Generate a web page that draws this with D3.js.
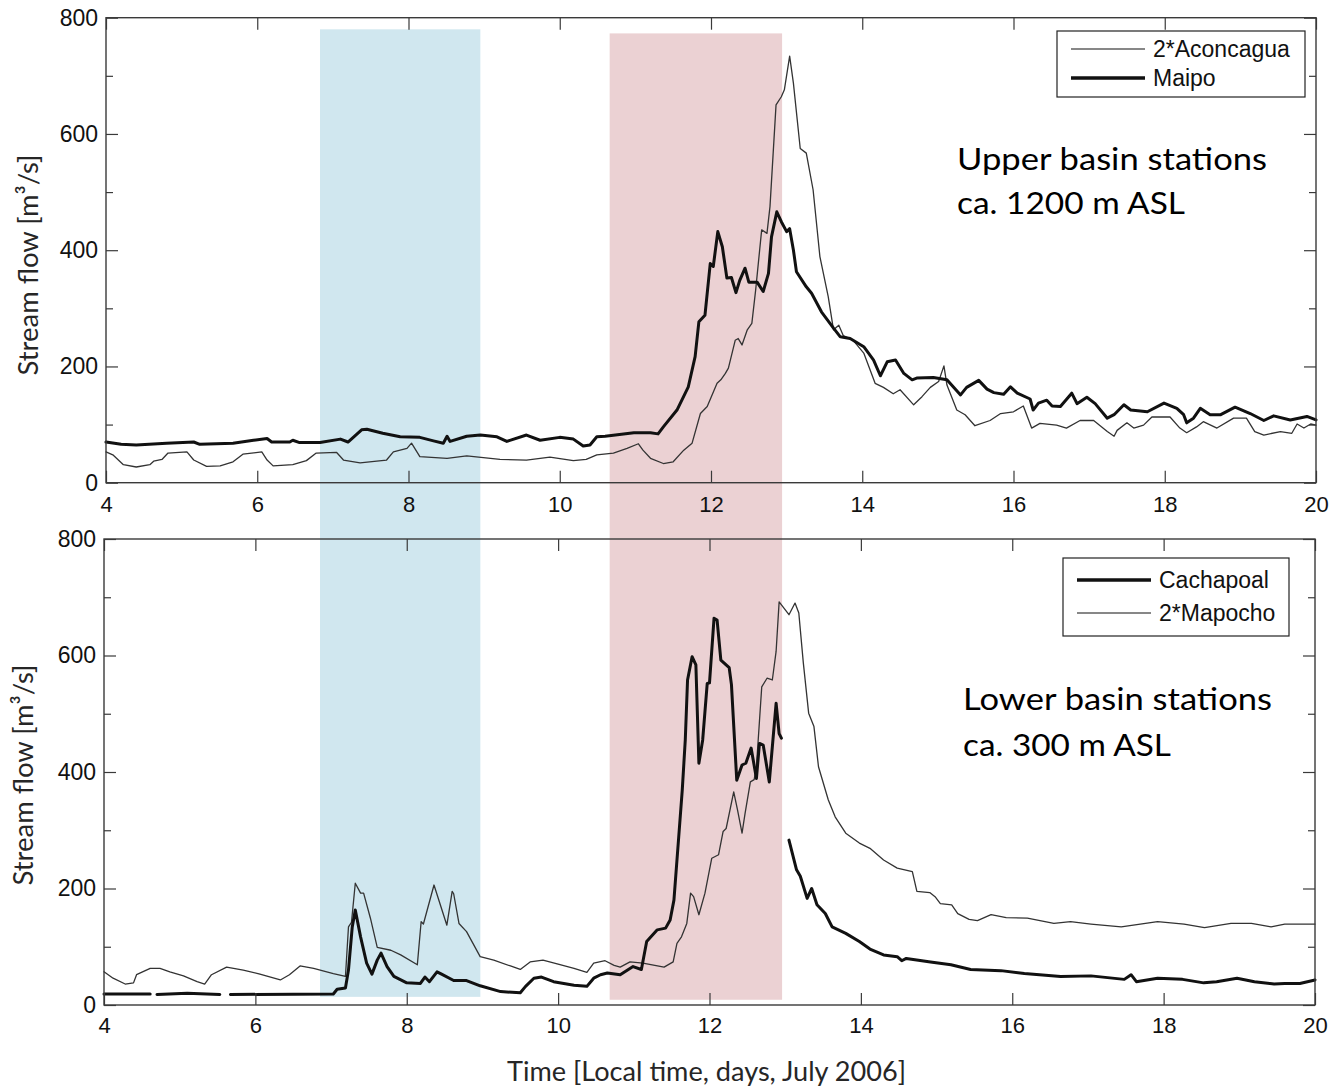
<!DOCTYPE html>
<html><head><meta charset="utf-8">
<script src="https://cdn.jsdelivr.net/npm/d3@7"></script>
<style>body{margin:0;background:#fff}</style>
</head><body><svg id="c" width="1333" height="1091"></svg>
<script>
// ---------- data ----------
const xTicks = [4, 6, 8, 10, 12, 14, 16, 18, 20];
const yTicks = [0, 200, 400, 600, 800];
const yMinorTicks = [100, 300, 500, 700];

const blueBand = [6.83, 8.95];   // days
const pinkBand = [10.66, 12.94]; // days

const topSeriesNames = ["2*Aconcagua", "Maipo"];
const bottomSeriesNames = ["Cachapoal", "2*Mapocho"];
const topTitle = ["Upper basin stations", "ca. 1200 m ASL"];
const bottomTitle = ["Lower basin stations", "ca. 300 m ASL"];

const maipo = [[4.0,70],[4.2,66],[4.4,65],[4.8,68],[5.16,70],[5.24,66],[5.68,68],[5.95,73],[6.13,76],[6.19,70],[6.43,70],[6.47,73],[6.56,69],[6.83,69],[7.10,75],[7.2,70],[7.38,91],[7.45,92],[7.66,85],[7.89,79],[8.15,78],[8.33,72],[8.46,68],[8.51,80],[8.55,71],[8.77,80],[8.95,82],[9.17,79],[9.30,71],[9.56,82],[9.74,73],[10.0,78],[10.18,75],[10.31,63],[10.4,65],[10.49,79],[10.6,80],[10.98,86],[11.2,86],[11.30,84],[11.37,96],[11.55,125],[11.70,165],[11.79,217],[11.84,277],[11.92,288],[11.99,377],[12.03,372],[12.09,432],[12.15,406],[12.21,352],[12.27,353],[12.33,327],[12.38,348],[12.45,369],[12.5,345],[12.61,345],[12.69,329],[12.76,360],[12.80,423],[12.87,466],[12.93,449],[13.0,432],[13.04,437],[13.09,400],[13.13,363],[13.26,337],[13.33,326],[13.46,294],[13.62,266],[13.71,251],[13.84,248],[14.02,234],[14.15,211],[14.24,184],[14.33,208],[14.44,211],[14.55,188],[14.66,177],[14.72,180],[14.94,181],[15.12,177],[15.30,151],[15.38,164],[15.54,176],[15.65,161],[15.74,155],[15.87,152],[15.96,165],[16.05,154],[16.22,144],[16.26,125],[16.33,137],[16.44,142],[16.51,132],[16.62,131],[16.77,154],[16.84,136],[16.97,147],[17.08,136],[17.24,111],[17.33,117],[17.46,134],[17.55,125],[17.77,122],[17.99,137],[18.16,128],[18.25,117],[18.29,103],[18.38,111],[18.47,128],[18.60,117],[18.74,117],[18.93,130],[19.13,119],[19.31,107],[19.44,115],[19.66,108],[19.88,114],[20.0,108]];

const aconcagua2 = [[4.0,53],[4.09,48],[4.23,31],[4.4,27],[4.58,31],[4.63,37],[4.74,40],[4.82,51],[5.07,53],[5.16,39],[5.33,28],[5.51,29],[5.68,36],[5.81,49],[6.06,53],[6.13,39],[6.21,29],[6.47,31],[6.65,38],[6.78,51],[7.05,52],[7.14,39],[7.36,34],[7.58,37],[7.71,39],[7.80,53],[7.98,59],[8.04,68],[8.15,45],[8.51,42],[8.77,46],[9.21,40],[9.56,39],[9.87,44],[10.18,38],[10.35,40],[10.49,48],[10.71,51],[10.89,59],[11.04,67],[11.1,56],[11.2,42],[11.37,33],[11.5,36],[11.64,56],[11.75,68],[11.86,119],[11.95,131],[12.08,171],[12.13,177],[12.19,188],[12.23,197],[12.32,245],[12.36,248],[12.41,237],[12.48,263],[12.54,274],[12.59,331],[12.67,435],[12.74,429],[12.78,475],[12.86,650],[12.93,664],[12.97,676],[13.04,734],[13.09,687],[13.18,575],[13.26,567],[13.35,504],[13.44,389],[13.55,320],[13.62,263],[13.69,271],[13.75,253],[13.88,245],[14.02,223],[14.17,171],[14.28,164],[14.41,153],[14.50,160],[14.68,134],[14.79,148],[14.90,164],[15.01,174],[15.08,201],[15.12,168],[15.25,125],[15.36,117],[15.49,98],[15.69,107],[15.83,119],[16.0,122],[16.13,132],[16.24,94],[16.35,102],[16.57,99],[16.70,94],[16.88,107],[17.06,107],[17.24,88],[17.33,80],[17.37,90],[17.50,103],[17.59,94],[17.72,99],[17.83,113],[18.07,113],[18.20,94],[18.29,86],[18.42,96],[18.51,105],[18.69,94],[18.91,111],[19.08,111],[19.19,88],[19.31,82],[19.53,88],[19.68,85],[19.75,101],[19.84,94],[19.93,101],[20.0,99]];

const cachapoal = [[4.0,19],[4.61,19],null,[4.70,18],[5.1,20],[5.53,18],null,[5.67,18],[7.03,19],[7.08,27],[7.19,29],[7.23,60],[7.28,134],[7.32,163],[7.39,117],[7.47,72],[7.54,53],[7.61,77],[7.66,89],[7.74,66],[7.83,49],[8.0,38],[8.18,37],[8.24,48],[8.30,40],[8.40,57],[8.46,53],[8.62,42],[8.79,42],[8.97,33],[9.24,23],[9.50,21],[9.57,32],[9.68,46],[9.78,48],[9.94,40],[10.21,34],[10.38,32],[10.47,46],[10.56,52],[10.65,55],[10.82,52],[10.99,66],[11.10,61],[11.17,109],[11.31,129],[11.42,132],[11.48,146],[11.53,180],[11.60,300],[11.64,369],[11.68,455],[11.71,558],[11.77,598],[11.82,584],[11.86,415],[11.91,455],[11.97,552],[12.0,553],[12.06,664],[12.1,661],[12.15,592],[12.26,579],[12.29,550],[12.36,386],[12.43,412],[12.48,415],[12.55,441],[12.62,389],[12.66,449],[12.71,446],[12.79,383],[12.88,518],[12.92,466],[12.95,458],null,[13.05,283],[13.15,232],[13.2,221],[13.29,183],[13.35,200],[13.42,172],[13.53,157],[13.62,134],[13.80,123],[13.98,109],[14.12,96],[14.30,86],[14.48,83],[14.54,76],[14.6,80],[14.92,74],[15.19,69],[15.45,61],[15.85,59],[16.16,54],[16.64,49],[17.04,50],[17.48,44],[17.57,52],[17.64,40],[17.92,46],[18.25,44],[18.53,38],[18.7,40],[18.97,46],[19.2,40],[19.46,36],[19.6,37],[19.8,37],[20.0,43]];

const mapocho2 = [[4.0,57],[4.12,46],[4.28,36],[4.39,38],[4.43,52],[4.61,63],[4.74,63],[4.87,57],[5.05,50],[5.23,40],[5.33,36],[5.42,52],[5.62,65],[5.84,60],[6.06,53],[6.33,43],[6.45,52],[6.59,67],[6.77,63],[7.03,54],[7.19,49],[7.23,134],[7.27,142],[7.32,209],[7.39,192],[7.43,192],[7.52,149],[7.61,99],[7.79,94],[7.92,86],[8.14,69],[8.19,143],[8.22,139],[8.36,206],[8.53,137],[8.60,195],[8.62,191],[8.69,140],[8.79,126],[8.97,83],[9.15,77],[9.37,67],[9.50,61],[9.63,74],[9.80,77],[10.0,70],[10.21,63],[10.38,56],[10.47,72],[10.62,76],[10.74,68],[10.82,65],[10.95,74],[11.12,72],[11.40,65],[11.52,74],[11.57,106],[11.63,117],[11.70,140],[11.75,192],[11.79,186],[11.86,155],[11.94,192],[12.03,252],[12.12,258],[12.18,298],[12.22,303],[12.32,366],[12.37,335],[12.43,295],[12.47,329],[12.54,383],[12.59,387],[12.62,409],[12.69,546],[12.76,561],[12.83,558],[12.88,607],[12.92,692],[13.05,670],[13.13,690],[13.18,673],[13.24,587],[13.31,501],[13.38,478],[13.44,409],[13.57,352],[13.66,323],[13.80,295],[13.98,278],[14.12,269],[14.30,249],[14.48,235],[14.68,229],[14.74,195],[14.91,193],[14.98,186],[15.05,174],[15.20,172],[15.28,157],[15.43,147],[15.54,145],[15.72,155],[15.92,150],[16.20,149],[16.55,140],[16.77,143],[17.04,139],[17.44,134],[17.92,143],[18.27,139],[18.54,133],[18.89,140],[19.16,140],[19.42,134],[19.6,139],[20.0,139]];

// ---------- drawing ----------
const svg = d3.select('#c');
svg.append('rect').attr('width', 1333).attr('height', 1091).attr('fill', '#fff');

const TICKFONT = '"Liberation Sans", Arial, sans-serif';
const TEXTFONT = 'Lato, "Open Sans", sans-serif';
const FRAME = '#3a3a3a';

const panels = [
  { x: d3.scaleLinear([4, 20], [106, 1316]), y: d3.scaleLinear([0, 800], [482.7, 17.7]), labPad: 14,
    series: [{ data: aconcagua2, w: 1.3, c: '#333' }, { data: maipo, w: 3, c: '#111' }],
    legend: { x: 1057, y: 31, w: 248, h: 66, rows: [18, 47], items: [{ name: topSeriesNames[0], w: 1.2 }, { name: topSeriesNames[1], w: 3.5 }] },
    title: topTitle, titleX: 957, titleY: [170, 214], titleW: [310, 228],
    ylab: { x: 38, y: 265 } },
  { x: d3.scaleLinear([4, 20], [104, 1315]), y: d3.scaleLinear([0, 800], [1005, 539]), labPad: 12,
    series: [{ data: mapocho2, w: 1.3, c: '#333' }, { data: cachapoal, w: 3, c: '#111' }],
    legend: { x: 1063, y: 558, w: 226, h: 78, rows: [22, 55], items: [{ name: bottomSeriesNames[0], w: 3.5 }, { name: bottomSeriesNames[1], w: 1.2 }] },
    title: bottomTitle, titleX: 963, titleY: [710, 756], titleW: [309, 208],
    ylab: { x: 33, y: 775 } }
];

// shaded event bands spanning both panels (behind everything)
const pt = panels[0], pb = panels[1];
[[blueBand, '#d0e7ef'], [pinkBand, '#ebd1d3']].forEach(([b, col], i) => {
  const top = i === 0 ? pt.y(780) : pt.y(773);
  const bot = i === 0 ? pb.y(14) : pb.y(9);
  svg.append('rect')
    .attr('x', pt.x(b[0])).attr('width', pt.x(b[1]) - pt.x(b[0]))
    .attr('y', top).attr('height', bot - top)
    .attr('fill', col);
});

function styleAxis(g, showText, fs) {
  g.select('.domain').remove();
  g.selectAll('.tick line').attr('stroke', FRAME).attr('stroke-width', 1.2);
  g.selectAll('.tick text').attr('fill', '#111').style('font-family', TICKFONT).style('font-size', fs + 'px');
  if (!showText) g.selectAll('.tick text').remove();
}

panels.forEach(p => {
  const [x0, x1] = p.x.range();
  const [yb, yt] = p.y.range();
  const g = svg.append('g');

  // lines
  const line = d3.line().defined(d => d !== null).x(d => p.x(d[0])).y(d => p.y(d[1]));
  p.series.forEach(s => {
    g.append('path').datum(s.data).attr('d', line)
      .attr('fill', 'none').attr('stroke', s.c).attr('stroke-width', s.w)
      .attr('stroke-linejoin', 'round').attr('stroke-linecap', 'round');
  });

  // axes
  g.append('g').attr('transform', `translate(${x0},0)`)
    .call(d3.axisLeft(p.y).tickValues(yTicks).tickSize(-12).tickPadding(8).tickFormat(d3.format('d')))
    .call(a => styleAxis(a, true, 23));
  g.append('g').attr('transform', `translate(${x0},0)`)
    .call(d3.axisLeft(p.y).tickValues(yMinorTicks).tickSize(-7).tickFormat(''))
    .call(a => styleAxis(a, false, 23));
  g.append('g').attr('transform', `translate(${x1},0)`)
    .call(d3.axisRight(p.y).tickValues(yTicks).tickSize(-12).tickFormat(''))
    .call(a => styleAxis(a, false, 23));
  g.append('g').attr('transform', `translate(${x1},0)`)
    .call(d3.axisRight(p.y).tickValues(yMinorTicks).tickSize(-7).tickFormat(''))
    .call(a => styleAxis(a, false, 23));
  g.append('g').attr('transform', `translate(0,${yb})`)
    .call(d3.axisBottom(p.x).tickValues(xTicks).tickSize(-12).tickPadding(p.labPad).tickFormat(d3.format('d')))
    .call(a => styleAxis(a, true, 22));
  g.append('g').attr('transform', `translate(0,${yt})`)
    .call(d3.axisTop(p.x).tickValues(xTicks).tickSize(-12).tickFormat(''))
    .call(a => styleAxis(a, false, 22));

  // frame
  g.append('rect').attr('x', x0).attr('y', yt).attr('width', x1 - x0).attr('height', yb - yt)
    .attr('fill', 'none').attr('stroke', FRAME).attr('stroke-width', 1.4);

  // legend
  const L = p.legend;
  const lg = g.append('g');
  lg.append('rect').attr('x', L.x).attr('y', L.y).attr('width', L.w).attr('height', L.h)
    .attr('fill', '#fff').attr('stroke', '#222').attr('stroke-width', 1.2);
  L.items.forEach((it, i) => {
    const cy = L.y + L.rows[i];
    lg.append('line').attr('x1', L.x + 14).attr('x2', L.x + 88).attr('y1', cy).attr('y2', cy)
      .attr('stroke', '#111').attr('stroke-width', it.w);
    lg.append('text').attr('x', L.x + 96).attr('y', cy + 8).text(it.name)
      .attr('fill', '#111').style('font-family', TICKFONT).style('font-size', '23px');
  });

  // station annotation
  p.title.forEach((t, i) => {
    g.append('text').attr('x', p.titleX).attr('y', p.titleY[i]).text(t)
      .attr('textLength', p.titleW[i]).attr('lengthAdjust', 'spacingAndGlyphs')
      .attr('fill', '#000').style('font-family', TEXTFONT).style('font-size', '31px');
  });

  // y label
  const yl = g.append('text').attr('transform', `translate(${p.ylab.x},${p.ylab.y}) rotate(-90)`)
    .attr('text-anchor', 'middle').attr('fill', '#262626')
    .attr('textLength', 221).attr('lengthAdjust', 'spacingAndGlyphs')
    .style('font-family', TEXTFONT).style('font-size', '27px');
  yl.text('Stream flow [m³/s]');
});

// x label
svg.append('text').attr('x', 706.5).attr('y', 1081).attr('text-anchor', 'middle')
  .attr('textLength', 399).attr('lengthAdjust', 'spacingAndGlyphs')
  .attr('fill', '#262626').style('font-family', TEXTFONT).style('font-size', '27px')
  .text('Time [Local time, days, July 2006]');
</script>
</body></html>
